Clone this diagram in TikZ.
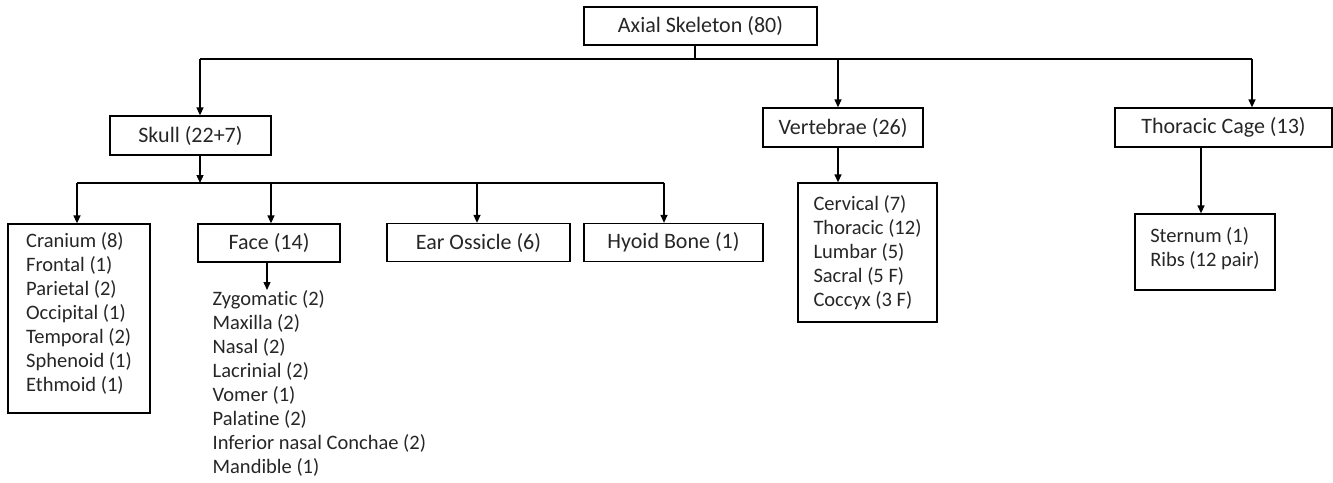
\documentclass[tikz,border=0pt]{standalone}
\usepackage{fontspec}
\setmainfont[Ligatures=NoCommon]{Carlito}
\usetikzlibrary{arrows.meta, positioning, calc}
\tikzstyle{box}=[draw, line width=1.3pt, inner sep=0pt, minimum height=38pt, text=black!85, font=\fontsize{22}{24}\selectfont]
\tikzstyle{list}=[box, align=left, font=\fontsize{20.5}{24}\selectfont]
\tikzstyle{arr}=[-{Triangle[length=8pt,width=7pt]}]

\begin{document}
\begin{tikzpicture}[x=1pt, y=-1pt, line width=1.3pt]
\useasboundingbox (0,0) rectangle (1333,482);
% top level
\node [box, minimum width=233pt] (axial) at (700.5,26) {Axial Skeleton (80)};
\node [box, minimum width=161pt, minimum height=39pt] (skull) at (190.5,135.5) {Skull (22+7)};
\node [box, minimum width=160pt, minimum height=39pt] (vert) at (843,127.5) {Vertebrae (26)};
\node [box, minimum width=217pt, minimum height=39pt] (thor) at (1223.5,127.5) {Thoracic Cage (13)};
% skull parts
\node [list, minimum width=142pt, minimum height=189pt] (cran) at (79,318.5) {Cranium (8)\\Frontal (1)\\Parietal (2)\\Occipital (1)\\Temporal (2)\\Sphenoid (1)\\Ethmoid (1)\\[-11pt]};
\node [box, minimum width=142pt] (face) at (269,243) {Face (14)};
\node [box, minimum width=183pt] (ear) at (478.5,242.5) {Ear Ossicle (6)};
\node [box, minimum width=179pt] (hyoid) at (673.5,242.5) {Hyoid Bone (1)};
\node [list, draw=none, anchor=north west] (facelist) at (212,290) {Zygomatic (2)\\Maxilla (2)\\Nasal (2)\\Lacrinial (2)\\Vomer (1)\\Palatine (2)\\Inferior nasal Conchae (2)\\Mandible (1)};
% vertebrae and cage
\node [list, minimum width=139pt, minimum height=139pt] (vlist) at (867.5,252.5) {Cervical (7)\\Thoracic (12)\\Lumbar (5)\\Sacral (5 F)\\Coccyx (3 F)};
\node [list, minimum width=140pt, minimum height=76pt] (stern) at (1205,252) {Sternum (1)\\Ribs (12 pair)\\[-13pt]};
% junctions
\coordinate (a) at (695,59); \coordinate (l1) at (200,59); \coordinate (l2) at (838,59); \coordinate (l3) at (1252,59);
\coordinate (s) at (200,183); \coordinate (c1) at (77,183); \coordinate (c2) at (271,183);
\coordinate (c3) at (477,183); \coordinate (c4) at (664,183); \coordinate (t) at (1201,147);
\draw (axial.south -| a) -- (a) (l1) -- (l3);
\draw [arr] (l1) -- (l1 |- skull.north);
\draw [arr] (l2) -- (l2 |- vert.north);
\draw [arr] (l3) -- (l3 |- thor.north);
\draw [arr] (l1 |- skull.south) -- (s);
\draw (c1) -- (c4);
\draw [arr] (c1) -- (c1 |- cran.north);
\draw [arr] (c2) -- (c2 |- face.north);
\draw [arr] (c3) -- (c3 |- ear.north);
\draw [arr] (c4) -- (c4 |- hyoid.north);
\draw [arr] ([xshift=-2pt]face.south) -- ([xshift=-2pt]face.south |- facelist.north);
\draw [arr] (l2 |- vert.south) -- (l2 |- vlist.north);
\draw [arr] (t) -- (t |- stern.north);
\end{tikzpicture}
\end{document}
